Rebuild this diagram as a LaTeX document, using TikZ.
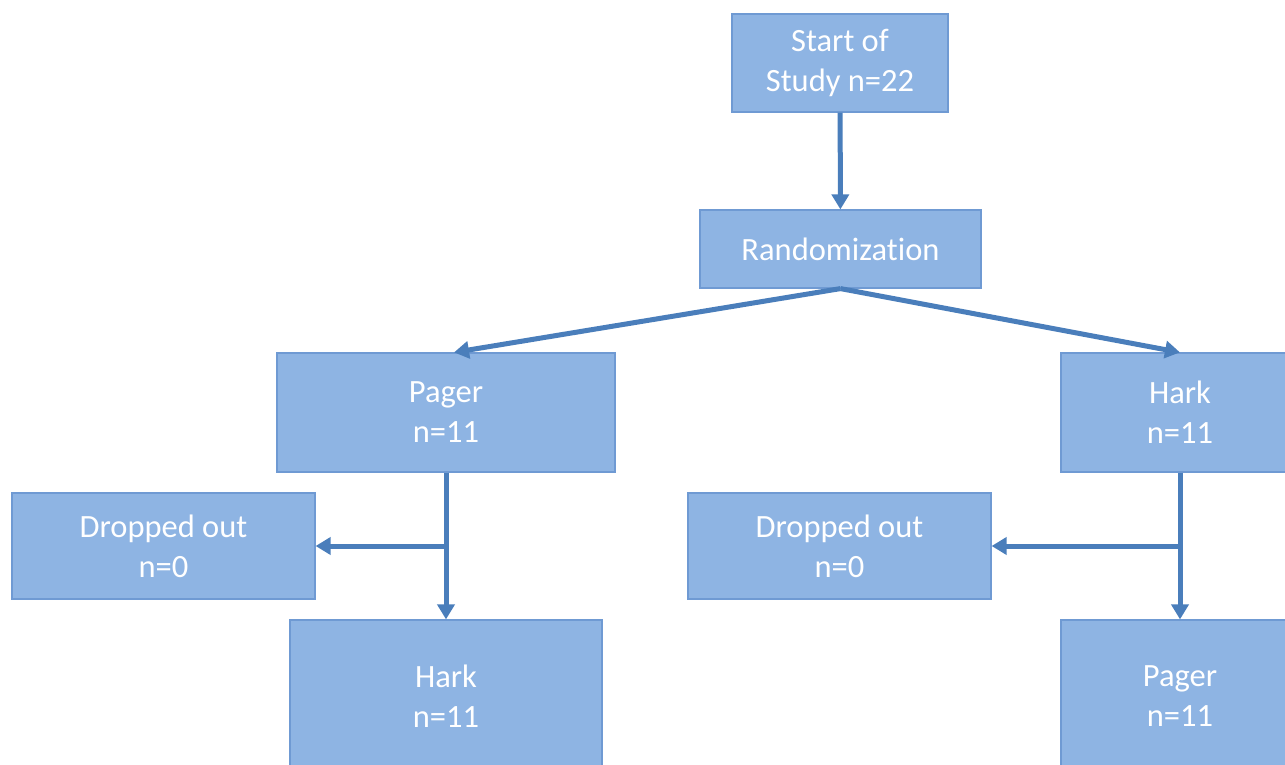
\documentclass[tikz,border=0pt]{standalone}
\usepackage{fontspec}
\setmainfont{Carlito}[Ligatures=CommonOff]
\usetikzlibrary{arrows.meta, positioning}
\definecolor{boxfill}{HTML}{8EB4E3}
\definecolor{boxline}{HTML}{6F9AD3}
\definecolor{arrowblue}{HTML}{4A7EBB}
\tikzset{
    box/.style={rectangle, draw=boxline, line width=1.2pt, fill=boxfill, text=white, align=center, inner sep=0pt, font=\fontsize{32.5}{40}\selectfont},
    arrow/.style={arrowblue, line width=5pt, -{Triangle[width=17pt,length=15pt]}}
}

\begin{document}
\begin{tikzpicture}[x=1pt, y=1pt]
    \useasboundingbox (0,0) rectangle (1285,764);

    \node (start) [box, minimum width=216pt, minimum height=98pt] at (840,701) {Start of\\Study n=22};
    \node (rand) [box, minimum width=281pt, minimum height=78pt] at (840.5,515) {Randomization};
    \node (pagerA) [box, minimum width=338pt, minimum height=119pt] at (446,351.5) {Pager\\n=11};
    \node (harkA) [box, minimum width=238pt, minimum height=119pt] at (1180,351.5) {Hark\\n=11};
    \node (dropA) [box, minimum width=303pt, minimum height=106pt] at (163.5,218) {Dropped out\\n=0};
    \node (dropB) [box, minimum width=303pt, minimum height=106pt] at (839.5,218) {Dropped out\\n=0};
    \node (harkB) [box, minimum width=312pt, minimum height=152pt] at (446,68) {Hark\\n=11};
    \node (pagerB) [box, minimum width=238pt, minimum height=152pt] at (1180,68) {Pager\\n=11};

    \coordinate (splitA) at (pagerA.south |- dropA.east);
    \coordinate (splitB) at (harkA.south |- dropB.east);

    \draw [arrow] (start) -- (rand);
    \draw [arrow] (rand.south) -- ([xshift=8pt]pagerA.north);
    \draw [arrow] (rand.south) -- (harkA.north);
    \draw [arrow] (pagerA.south) -- (harkB.north);
    \draw [arrow] (splitA) -- (dropA.east);
    \draw [arrow] (harkA.south) -- (pagerB.north);
    \draw [arrow] (splitB) -- (dropB.east);
\end{tikzpicture}
\end{document}
